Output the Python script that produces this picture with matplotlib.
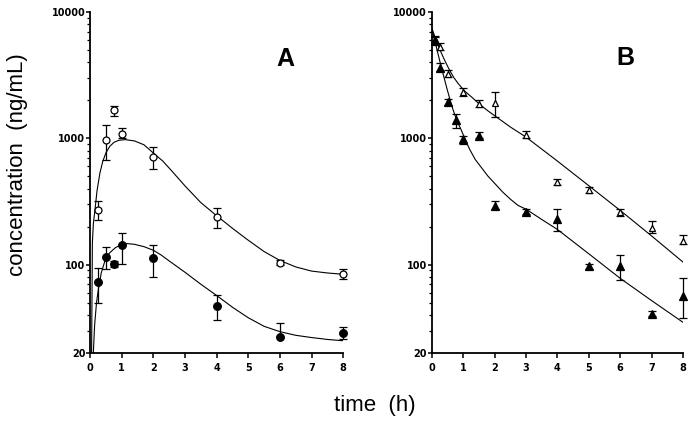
"""
Plasma concentration-time profiles, two panels (A: oral-type rise and fall,
B: bi-exponential decline), log y axis, mean +/- SD with fitted curves.
"""

import matplotlib
matplotlib.use("Agg")
import matplotlib.pyplot as plt
from matplotlib.ticker import FixedLocator, NullFormatter

# ---- panel A: circles ----
a_t = [0.25, 0.5, 0.75, 1, 2, 4, 6, 8]
a_open = [270, 970, 1675, 1077, 713, 240, 104, 84]
a_open_hi = [318, 1268, 1810, 1210, 860, 282, 109, 92]
a_open_lo = [225, 679, 1500, 1000, 577, 194, 99, 77]
a_fill = [72.6, 116, 101, 142, 112, 47.5, 26.7, 28.9]
a_fill_hi = [95, 138, 106, 179, 144, 57.6, 34.3, 32]
a_fill_lo = [50, 93, 96, 102, 80, 36.6, 26.7, 26]

# fitted curves
a_open_fit_t = [0.045, 0.07, 0.1, 0.16, 0.22, 0.31, 0.4, 0.5, 0.62, 0.75, 0.9,
                1.1, 1.4, 1.7, 2.0, 2.3, 2.6, 3.0, 3.5, 4.0, 4.5, 5.0, 5.5,
                6.0, 6.5, 7.0, 7.5, 8.0]
a_open_fit = [20, 150, 210, 285, 390, 535, 660, 770, 865, 930, 965,
              978, 955, 890, 765, 660, 545, 420, 310, 244, 194, 156, 127,
              108, 96, 89, 86, 84]
a_fill_fit_t = [0.1, 0.14, 0.2, 0.26, 0.35, 0.47, 0.6, 0.79, 0.95, 1.15, 1.4,
                1.7, 2.0, 2.25, 2.5, 3.0, 3.5, 4.0, 4.5, 5.0, 5.5, 6.0, 6.5,
                7.0, 7.5, 8.0]
a_fill_fit = [20, 33, 50, 64, 86, 108, 123, 136, 143, 147, 145,
              139, 130, 119, 107, 87, 70, 57, 46, 38, 32.5, 29.5, 27.6,
              26.5, 25.6, 25]

# ---- panel B: triangles ----
b_open_t = [0.1, 0.25, 0.5, 1, 1.5, 2, 3, 4, 5, 6, 7, 8]
b_open = [6100, 5300, 3250, 2320, 1880, 1900, 1070, 453, 389, 260, 196, 154]
b_open_hi = [6500, 5650, 3450, 2500, 2000, 2310, 1140, 480, 410, 275, 221, 171]
b_open_lo = [5700, 5000, 3050, 2150, 1760, 1490, 1000, 425, 370, 245, 179, 145]
b_fill_t = [0.1, 0.25, 0.5, 0.75, 1, 1.5, 2, 3, 4, 5, 6, 7, 8]
b_fill = [5950, 3600, 1940, 1400, 980, 1050, 294, 262, 231, 97, 97, 41, 57]
b_fill_hi = [6300, 3980, 2050, 1570, 1050, 1130, 318, 275, 277, 101, 119, 43, 78.5]
b_fill_lo = [5600, 3400, 1840, 1210, 910, 1000, 274, 250, 185, 93, 75, 39, 37.6]

b_open_fit_t = [0, 0.1, 0.2, 0.3, 0.42, 0.56, 0.7, 0.85, 1.04, 1.25, 1.52,
                1.8, 2.05, 2.5, 3.0, 3.5, 4.0, 5.0, 6.0, 7.0, 8.0]
b_open_fit = [7400, 6310, 5430, 4730, 4070, 3470, 3020, 2690, 2370, 2140,
              1860, 1640, 1480, 1230, 1023, 822, 661, 422, 269, 169, 105]
b_fill_fit_t = [0, 0.06, 0.15, 0.24, 0.35, 0.46, 0.56, 0.67, 0.8, 0.93, 1.05,
                1.2, 1.38, 1.57, 1.78, 2.0, 2.25, 2.5, 2.75, 3.0, 3.5, 4.0,
                5.0, 6.0, 7.0, 8.0]
b_fill_fit = [7300, 6400, 5160, 4180, 3270, 2570, 2090, 1690, 1370, 1170, 993,
              820, 680, 590, 504, 440, 377, 330, 294, 275, 228, 190,
              122, 78, 52, 35]

x_ticks = [0, 1, 2, 3, 4, 5, 6, 7, 8]
y_ticks = [20, 100, 1000, 10000]
y_labels = ["20", "100", "1000", "10000"]
y_minor = [30, 40, 50, 60, 70, 80, 90, 200, 300, 400, 500, 600, 700, 800, 900,
           2000, 3000, 4000, 5000, 6000, 7000, 8000, 9000]


def errs(y, lo, hi):
    return [[v - l for v, l in zip(y, lo)], [h - v for v, h in zip(y, hi)]]


def style_axis(ax):
    ax.set_yscale("log")
    ax.set_xlim(0, 8)
    ax.set_ylim(20, 10000)
    for s in ("top", "right"):
        ax.spines[s].set_visible(False)
    for s in ("left", "bottom"):
        ax.spines[s].set_linewidth(1.3)
    ax.set_xticks(x_ticks)
    ax.set_xticklabels([str(v) for v in x_ticks])
    ax.yaxis.set_major_locator(FixedLocator(y_ticks))
    ax.yaxis.set_minor_locator(FixedLocator(y_minor))
    ax.yaxis.set_minor_formatter(NullFormatter())
    ax.set_yticklabels(y_labels)
    ax.tick_params(axis="y", which="major", length=3, width=1.1, pad=0.5,
                   direction="out")
    ax.tick_params(axis="y", which="minor", length=2, width=0.9, direction="out")
    ax.tick_params(axis="x", which="major", length=3.5, width=1.1, pad=4,
                   direction="out")
    for lab in ax.get_xticklabels() + ax.get_yticklabels():
        lab.set_fontsize(7)
        lab.set_fontweight("bold")
        lab.set_family("DejaVu Sans")


def plot_series(ax, t, y, lo, hi, marker, filled, ms):
    eb = ax.errorbar(t, y, yerr=errs(y, lo, hi), fmt="none", ecolor="black",
                     elinewidth=0.9, capsize=2.8, capthick=0.9, zorder=3)
    for art in eb.lines[1] + eb.lines[2]:
        art.set_clip_on(False)
    ax.plot(t, y, linestyle="none", marker=marker, markersize=ms,
            markerfacecolor="black" if filled else "white",
            markeredgecolor="black", markeredgewidth=0.9, zorder=4,
            clip_on=False)


fig = plt.figure(figsize=(6.99, 4.24), dpi=100)
ax_a = fig.add_axes([0.129, 0.1675, 0.362, 0.804])
ax_b = fig.add_axes([0.618, 0.1675, 0.359, 0.804])

ax_a.plot(a_open_fit_t, a_open_fit, color="black", lw=0.8, zorder=2)
ax_a.plot(a_fill_fit_t, a_fill_fit, color="black", lw=0.8, zorder=2)
plot_series(ax_a, a_t, a_open, a_open_lo, a_open_hi, "o", False, 5)
plot_series(ax_a, a_t, a_fill, a_fill_lo, a_fill_hi, "o", True, 5.5)
style_axis(ax_a)

ax_b.plot(b_open_fit_t, b_open_fit, color="black", lw=0.8, zorder=2)
ax_b.plot(b_fill_fit_t, b_fill_fit, color="black", lw=0.8, zorder=2)
plot_series(ax_b, b_open_t, b_open, b_open_lo, b_open_hi, "^", False, 5)
plot_series(ax_b, b_fill_t, b_fill, b_fill_lo, b_fill_hi, "^", True, 5.5)
style_axis(ax_b)

fig.text(285 / 699, 1 - 59 / 424, "A", fontsize=18, fontweight="bold",
         family="Liberation Sans", ha="center", va="center")
fig.text(625 / 699, 1 - 58 / 424, "B", fontsize=18, fontweight="bold",
         family="Liberation Sans", ha="center", va="center")
fig.text(18 / 699, 1 - 165 / 424, "concentration  (ng/mL)", fontsize=16,
         family="Liberation Sans", rotation=90, ha="center", va="center")
fig.text(375 / 699, 1 - 405 / 424, "time  (h)", fontsize=16,
         family="Liberation Sans", ha="center", va="center")

fig.savefig("out.png", dpi=100)
